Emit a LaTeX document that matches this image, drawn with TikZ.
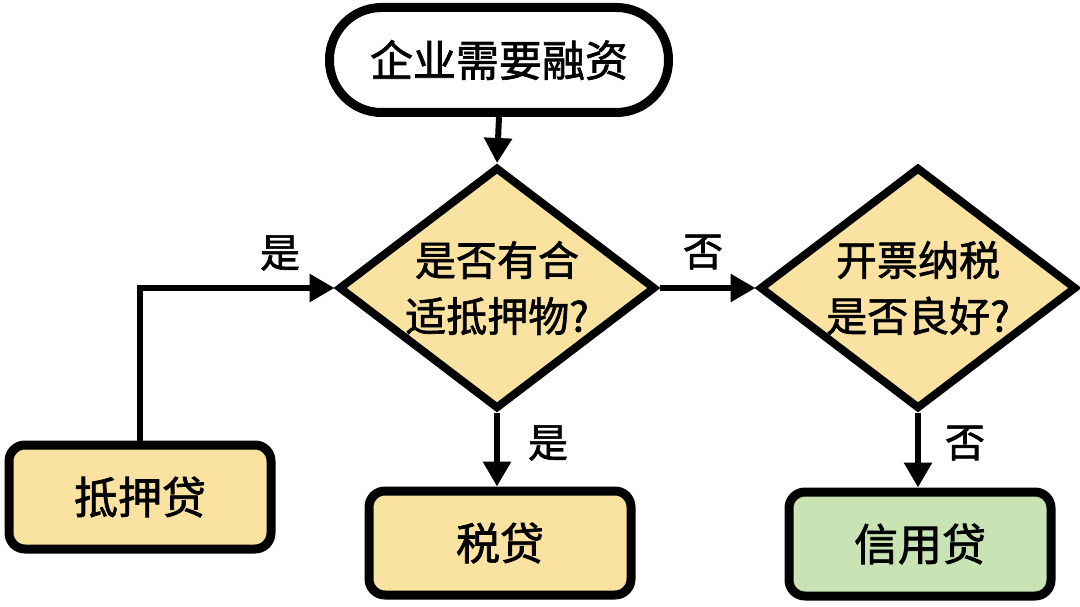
\documentclass[tikz,border=0pt]{standalone}
\usepackage{fontspec}
\newfontfamily\cjk[FakeBold=1.6]{Noto Sans CJK SC}
\usetikzlibrary{shapes.geometric,arrows.meta}
\definecolor{yel}{HTML}{FAE2A0}
\definecolor{grn}{HTML}{C8E4B4}
\tikzset{
  base/.style={draw=black, text=black, inner sep=0pt, align=center},
  term/.style={base, line width=9pt, fill=white, rounded corners=52pt,
    minimum width=339pt, minimum height=105pt, font=\cjk\fontsize{43}{52}\selectfont},
  dec/.style={base, diamond, aspect=1.3, line width=8pt, fill=yel,
    minimum width=317pt, minimum height=242pt, font=\cjk\fontsize{41}{56}\selectfont},
  res/.style={base, line width=9pt, rounded corners=16pt,
    minimum width=262pt, minimum height=104pt, font=\cjk\fontsize{44}{52}\selectfont},
  arr/.style={line width=6pt, -{Triangle[length=25pt,width=27pt]}},
  lab/.style={inner sep=0pt, font=\cjk\fontsize{40}{44}\selectfont}
}
\begin{document}
\begin{tikzpicture}[x=1pt,y=-1pt]
\useasboundingbox[fill=white] (0,0) rectangle (1080,607);
\node[term] (start) at (499,60) {企业需要融资};
\node[dec] (d1) at (497,288) {是否有合\\适抵押物?};
\node[dec] (d2) at (918,288) {开票纳税\\是否良好?};
\node[res, fill=yel] (mort) at (140,497) {抵押贷};
\node[res, fill=yel] (tax) at (500,543) {税贷};
\node[res, fill=grn] (cred) at (920,544) {信用贷};
\draw[arr] (start.south) -- (d1.north);
\draw[arr] (mort.north) |- (d1.west);
\draw[arr] (d1.east) -- (d2.west);
\draw[arr] (d1.south) -- (d1.south |- tax.north);
\draw[arr] (d2.south) -- (d2.south |- cred.north);
\node[lab] (l1) at (280,253) {是};
\node[lab] (l2) at (703,252) {否};
\node[lab] (l3) at (548,443) {是};
\node[lab] (l4) at (965,443) {否};
\end{tikzpicture}
\end{document}
